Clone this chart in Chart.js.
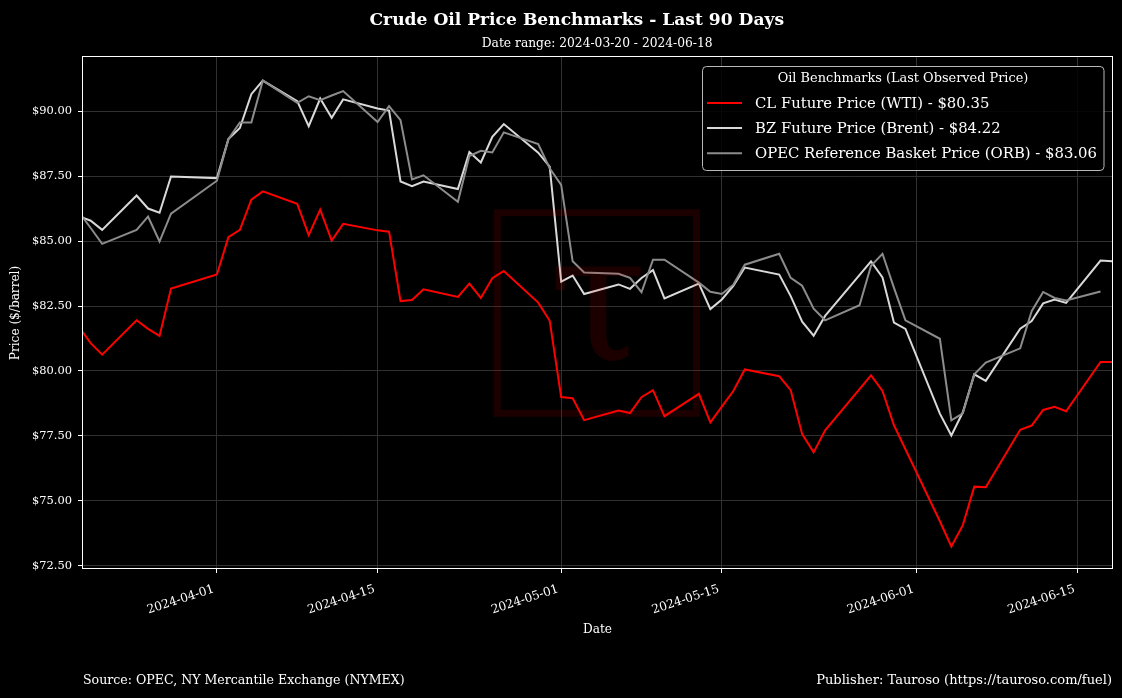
<!DOCTYPE html>
<html><head><meta charset="utf-8">
<script src="https://cdn.jsdelivr.net/npm/chart.js@4.4.1/dist/chart.umd.min.js"></script>
<style>html,body{margin:0;padding:0;background:#000;overflow:hidden}#wrap{width:1122px;height:698px;position:relative}</style>
</head><body><div id="wrap"><canvas id="c" width="1122" height="698"></canvas></div>
<script>
// ---------------- DATA ----------------
const TRADING_DATES = [
 '2024-03-20','2024-03-21','2024-03-22','2024-03-25','2024-03-26','2024-03-27','2024-03-28',
 '2024-04-01','2024-04-02','2024-04-03','2024-04-04','2024-04-05',
 '2024-04-08','2024-04-09','2024-04-10','2024-04-11','2024-04-12',
 '2024-04-15','2024-04-16','2024-04-17','2024-04-18','2024-04-19',
 '2024-04-22','2024-04-23','2024-04-24','2024-04-25','2024-04-26',
 '2024-04-29','2024-04-30','2024-05-01','2024-05-02','2024-05-03',
 '2024-05-06','2024-05-07','2024-05-08','2024-05-09','2024-05-10',
 '2024-05-13','2024-05-14','2024-05-15','2024-05-16','2024-05-17',
 '2024-05-20','2024-05-21','2024-05-22','2024-05-23','2024-05-24',
 '2024-05-28','2024-05-29','2024-05-30','2024-05-31',
 '2024-06-03','2024-06-04','2024-06-05','2024-06-06','2024-06-07',
 '2024-06-10','2024-06-11','2024-06-12','2024-06-13','2024-06-14',
 '2024-06-17','2024-06-18'
];
const CL_WTI = [
 81.68,81.07,80.63,81.95,81.62,81.35,83.17,
 83.71,85.15,85.43,86.59,86.91,
 86.43,85.23,86.21,85.02,85.66,
 85.41,85.36,82.69,82.73,83.14,
 82.85,83.36,82.81,83.57,83.85,
 82.63,81.93,79.00,78.95,78.11,
 78.48,78.38,78.99,79.26,78.26,
 79.12,78.02,78.63,79.23,80.06,
 79.80,79.26,77.57,76.87,77.72,
 79.83,79.23,77.91,76.99,
 74.22,73.25,74.07,75.55,75.53,
 77.74,77.90,78.50,78.62,78.45,
 80.35,80.35
];
const BZ_BRENT = [
 85.95,85.78,85.43,86.75,86.25,86.09,87.48,
 87.42,88.92,89.35,90.65,91.17,
 90.38,89.42,90.48,89.74,90.45,
 90.10,90.02,87.29,87.11,87.29,
 87.00,88.42,88.02,89.01,89.50,
 88.40,87.86,83.44,83.67,82.96,
 83.33,83.16,83.58,83.88,82.79,
 83.36,82.38,82.75,83.27,83.98,
 83.71,82.88,81.90,81.36,82.12,
 84.22,83.60,81.86,81.62,
 78.36,77.52,78.41,79.87,79.62,
 81.63,81.92,82.60,82.75,82.62,
 84.25,84.22
];
const ORB_DATES = [
 '2024-03-20','2024-03-21','2024-03-22','2024-03-25','2024-03-26','2024-03-27','2024-03-28',
 '2024-04-01','2024-04-02','2024-04-03','2024-04-04','2024-04-05',
 '2024-04-08','2024-04-09','2024-04-10','2024-04-11','2024-04-12',
 '2024-04-15','2024-04-16','2024-04-17','2024-04-18','2024-04-19',
 '2024-04-22','2024-04-23','2024-04-24','2024-04-25','2024-04-26',
 '2024-04-29','2024-04-30','2024-05-01','2024-05-02','2024-05-03',
 '2024-05-06','2024-05-07','2024-05-08','2024-05-09','2024-05-10',
 '2024-05-13','2024-05-14','2024-05-15','2024-05-16','2024-05-17',
 '2024-05-20','2024-05-21','2024-05-22','2024-05-23','2024-05-24',
 '2024-05-27','2024-05-28','2024-05-29','2024-05-30','2024-05-31',
 '2024-06-03','2024-06-04','2024-06-05','2024-06-06','2024-06-07',
 '2024-06-10','2024-06-11','2024-06-12','2024-06-13','2024-06-14',
 '2024-06-17'
];
const ORB_BASKET = [
 86.10,85.50,84.89,85.43,85.94,84.98,86.05,
 87.32,88.92,89.56,89.56,91.17,
 90.32,90.57,90.42,90.60,90.77,
 89.58,90.19,89.65,87.37,87.53,
 86.51,88.27,88.47,88.41,89.18,
 88.73,87.80,87.16,84.22,83.79,
 83.74,83.58,83.03,84.28,84.28,
 83.40,83.05,82.96,83.32,84.09,
 84.51,83.58,83.28,82.40,81.95,
 82.53,84.05,84.51,83.20,81.95,
 81.24,78.10,78.37,79.87,80.32,
 80.87,82.30,83.04,82.81,82.71,
 83.06
];
const SERIES_LABELS = ['CL Future Price (WTI)','BZ Future Price (Brent)','OPEC Reference Basket Price (ORB)'];
const X_TICK_LABELS = ['2024-04-01','2024-04-15','2024-05-01','2024-05-15','2024-06-01','2024-06-15'];
const Y_TICKS = [72.5,75,77.5,80,82.5,85,87.5,90];
const RANGE_START = '2024-03-20', RANGE_END = '2024-06-18';
const TITLE = 'Crude Oil Price Benchmarks - Last 90 Days';
const SUBTITLE = 'Date range: ' + RANGE_START + ' - ' + RANGE_END;
const LEGEND_TITLE = 'Oil Benchmarks (Last Observed Price)';
const Y_TITLE = 'Price ($/barrel)', X_TITLE = 'Date';
const SOURCE = 'Source: OPEC, NY Mercantile Exchange (NYMEX)';
const PUBLISHER = 'Publisher: Tauroso (https://tauroso.com/fuel)';

// ---------------- HELPERS ----------------
const FONT = '"DejaVu Serif", "Liberation Serif", serif';
const T0 = Date.UTC(2024,2,20);
function dayOf(s){const p=s.split('-').map(Number);return (Date.UTC(p[0],p[1]-1,p[2])-T0)/86400000;}
function dayLabel(v){const d=new Date(T0+v*86400000);return d.toISOString().slice(0,10);}
const mctx=document.createElement('canvas').getContext('2d');
function fit(text,width,weight){mctx.font=(weight||'normal')+' 100px '+FONT;return 100*width/mctx.measureText(text).width;}
function pts(dates,vals){return dates.map((d,i)=>({x:dayOf(d),y:vals[i]}));}

const yTickSize = fit('$90.00',40);
const xTickSize = fit('2024-04-01',70);
const labelSize = fit(X_TITLE,29);
const COLORS = ['#ff0000','#d9d9d9','#8c8c8c'];

const watermark = {
  id:'watermark',
  afterDatasetsDraw(chart){
    const c=chart.ctx; c.save();
    c.strokeStyle='rgba(255,0,0,0.11)'; c.lineWidth=7;
    c.strokeRect(497.5,212.7,199,200.6);
    c.fillStyle='rgba(255,0,0,0.11)';
    c.font='normal 100px '+FONT;
    let m=c.measureText('τ');
    const h=m.actualBoundingBoxAscent+m.actualBoundingBoxDescent;
    const s=100*102/h;
    c.font='normal '+s+'px '+FONT;
    m=c.measureText('τ');
    const w=m.actualBoundingBoxLeft+m.actualBoundingBoxRight;
    const cx=598.5, cy=316;
    c.textAlign='left'; c.textBaseline='alphabetic';
    c.fillText('τ', cx - w/2 + m.actualBoundingBoxLeft, cy + (m.actualBoundingBoxAscent - m.actualBoundingBoxDescent)/2);
    c.restore();
  }
};

const decor = {
  id:'decor',
  beforeDraw(chart){const c=chart.ctx;c.save();c.fillStyle='#000';c.fillRect(0,0,chart.width,chart.height);c.restore();},
  afterDraw(chart){
    const c=chart.ctx, a=chart.chartArea; c.save();
    // frame
    c.strokeStyle='#ffffff'; c.lineWidth=1;
    c.strokeRect(Math.round(a.left)-0.5,Math.round(a.top)-0.5,Math.round(a.right-a.left)+1,Math.round(a.bottom-a.top)+1);
    c.fillStyle='#ffffff';
    // title
    c.textAlign='center'; c.textBaseline='alphabetic';
    c.font='bold '+fit(TITLE,415,'bold')+'px '+FONT; c.fillText(TITLE,576.8,25);
    c.font='normal '+fit(SUBTITLE,231)+'px '+FONT; c.fillText(SUBTITLE,597.2,46.5);
    // axis titles
    c.textBaseline='middle';
    c.font='normal '+labelSize+'px '+FONT; c.fillText(X_TITLE,597.5,630);
    c.save(); c.translate(16,313); c.rotate(-Math.PI/2);
    c.font='normal '+labelSize+'px '+FONT; c.fillText(Y_TITLE,0,0); c.restore();
    // footer
    c.textBaseline='alphabetic';
    c.textAlign='left'; c.font='normal '+fit(SOURCE,322)+'px '+FONT; c.fillText(SOURCE,83,684);
    c.textAlign='right'; c.font='normal '+fit(PUBLISHER,296)+'px '+FONT; c.fillText(PUBLISHER,1112,684);
    // legend
    const bx=702.5,by=66.5,bw=401.5,bh=104,r=4;
    c.beginPath(); c.roundRect(bx,by,bw,bh,r); c.fillStyle='rgba(0,0,0,0.85)'; c.fill();
    c.strokeStyle='#b8b8b8'; c.lineWidth=1; c.stroke();
    c.fillStyle='#ffffff'; c.textAlign='center'; c.textBaseline='middle';
    c.font='normal '+fit(LEGEND_TITLE,251)+'px '+FONT; c.fillText(LEGEND_TITLE,903,78.5);
    const ds=chart.data.datasets;
    const entries=ds.map(d=>d.label+' - $'+d.data[d.data.length-1].y.toFixed(2));
    const es=fit(entries[2],342);
    const ys=[103,128,153.3];
    c.textAlign='left'; c.font='normal '+es+'px '+FONT;
    entries.forEach((t,i)=>{
      c.strokeStyle=ds[i].borderColor; c.lineWidth=2;
      c.beginPath(); c.moveTo(707,ys[i]); c.lineTo(742,ys[i]); c.stroke();
      c.fillStyle='#ffffff'; c.fillText(t,755,ys[i]+1);
    });
    c.restore();
  }
};

new Chart(document.getElementById('c'),{
  type:'line',
  data:{datasets:[
    {label:SERIES_LABELS[0],data:pts(TRADING_DATES,CL_WTI),borderColor:COLORS[0],order:2},
    {label:SERIES_LABELS[1],data:pts(TRADING_DATES,BZ_BRENT),borderColor:COLORS[1],order:1},
    {label:SERIES_LABELS[2],data:pts(ORB_DATES,ORB_BASKET),borderColor:COLORS[2],order:0}
  ]},
  options:{
    responsive:false, animation:false, devicePixelRatio:1,
    layout:{padding:{left:0,top:57,right:10,bottom:0}},
    elements:{line:{borderWidth:2,tension:0,fill:false},point:{radius:0,hoverRadius:0}},
    plugins:{legend:{display:false},title:{display:false},tooltip:{enabled:false}},
    scales:{
      x:{type:'linear',min:dayOf(RANGE_START)+0.33,max:dayOf(RANGE_END),
        afterFit(s){s.height=130;},
        afterBuildTicks(s){s.ticks=X_TICK_LABELS.map(l=>({value:dayOf(l)}));},
        grid:{color:'#303030',lineWidth:1,drawTicks:true,tickLength:5,tickColor:'#ffffff',tickWidth:1},
        border:{display:false},
        ticks:{autoSkip:false,maxRotation:18,minRotation:18,padding:9,labelOffset:-3,color:'#ffffff',
          font:{family:FONT,size:xTickSize},callback:(v)=>dayLabel(v)}
      },
      y:{type:'linear',min:72.42,max:92.08,
        afterFit(s){s.width=83;},
        afterBuildTicks(s){s.ticks=Y_TICKS.map(v=>({value:v}));},
        grid:{color:'#303030',lineWidth:1,drawTicks:true,tickLength:5,tickColor:'#ffffff',tickWidth:1},
        border:{display:false},
        ticks:{padding:6,color:'#ffffff',font:{family:FONT,size:yTickSize},callback:(v)=>'$'+Number(v).toFixed(2)}
      }
    }
  },
  plugins:[decor,watermark]
});
</script></body></html>
